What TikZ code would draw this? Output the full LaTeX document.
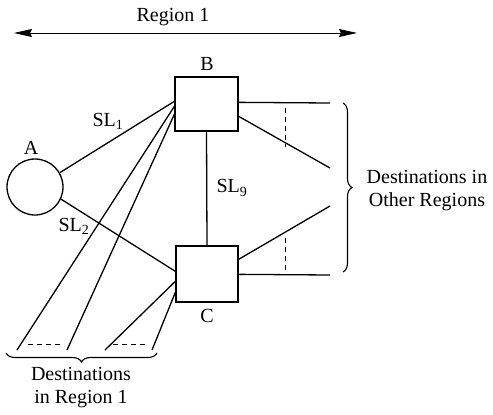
\documentclass[tikz,border=0pt]{standalone}
\usepackage{fontspec}
\setmainfont{Liberation Serif}
\usetikzlibrary{arrows.meta,calc,decorations.pathreplacing}
\begin{document}
\begin{tikzpicture}[x=1pt,y=-1pt,
  line width=1.3pt,
  every node/.style={font=\fontsize{20}{23}\selectfont},
  switchbox/.style={draw,rectangle,inner sep=0pt},
  origin/.style={draw,circle,inner sep=0pt,minimum size=56pt},
  txt/.style={inner sep=0pt,align=center},
  trunk/.style={line width=1.3pt},
  gap/.style={line width=0.9pt,dash pattern=on 5pt off 4pt},
  bracket/.style={decorate,decoration={brace,amplitude=9pt},line width=1.1pt}]
\useasboundingbox (0,0) rectangle (493,415);

% region span
\coordinate (rL) at (14,33);
\coordinate (rR) at (357,33);
\draw[{Stealth[length=18pt,width=8pt,inset=2pt]}-{Stealth[length=18pt,width=8pt,inset=2pt]},line width=0.9pt] (rL) -- (rR);
\node[txt] (reg) at (173,17) {Region 1};

% switching nodes
\node[origin] (A) at (35,187) {};
\node[switchbox,minimum width=63pt,minimum height=54pt] (B) at (206.5,104) {};
\node[switchbox,minimum width=62pt,minimum height=56pt] (C) at (207,274) {};
\node[txt] (lA) at (31,148) {A};
\node[txt] (lB) at (207,64) {B};
\node[txt] (lC) at (207,316) {C};

% trunk groups
\draw[trunk] (A.30) -- ($(B.north west)+(0,25)$);
\draw[trunk] (A.-25) -- ($(C.north west)+(0,26)$);
\draw[trunk] (B.south) -- (C.north);
\node[txt] (sl1) at (108,121) {SL\textsubscript{1}};
\node[txt] (sl2) at (74,226) {SL\textsubscript{2}};
\node[txt] (sl9) at (232,188) {SL\textsubscript{9}};

% destinations in other regions
\coordinate (o1) at (330,103);
\coordinate (o2) at (330,168);
\coordinate (o3) at (330,206);
\coordinate (o4) at (330,275);
\draw[trunk] ($(B.north east)+(0,26)$) -- (o1);
\draw[trunk] ($(B.north east)+(0,40)$) -- (o2);
\draw[trunk] ($(C.north east)+(0,14)$) -- (o3);
\draw[trunk] ($(C.north east)+(0,29)$) -- (o4);
\coordinate (g1) at (285,108);
\coordinate (g2) at (285,147);
\coordinate (g3) at (285,238);
\coordinate (g4) at (285,270);
\draw[gap] (g1) -- (g2);
\draw[gap] (g3) -- (g4);
\coordinate (bo1) at (343,103);
\coordinate (bo2) at (343,272);
\draw[bracket] (bo1) -- (bo2);
\node[txt] (other) at (427,191) {Destinations in\\Other Regions};

% destinations in region 1
\coordinate (d1) at (17,350);
\coordinate (d2) at (67,350);
\coordinate (d3) at (105,350);
\coordinate (d4) at (152,350);
\draw[trunk] ($(B.north west)+(0,30)$) -- (d1);
\draw[trunk] ($(B.north west)+(0,38)$) -- (d2);
\draw[trunk] ($(C.north west)+(0,36)$) -- (d3);
\draw[trunk] ($(C.north west)+(0,47)$) -- (d4);
\coordinate (h1) at (28,344);
\coordinate (h2) at (63,344);
\coordinate (h3) at (113,344);
\coordinate (h4) at (148,344);
\draw[gap] (h1) -- (h2);
\draw[gap] (h3) -- (h4);
\coordinate (bd1) at (157,353);
\coordinate (bd2) at (6,353);
\draw[bracket] (bd1) -- (bd2);
\node[txt] (local) at (81,388) {Destinations\\in Region 1};
\end{tikzpicture}
\end{document}
